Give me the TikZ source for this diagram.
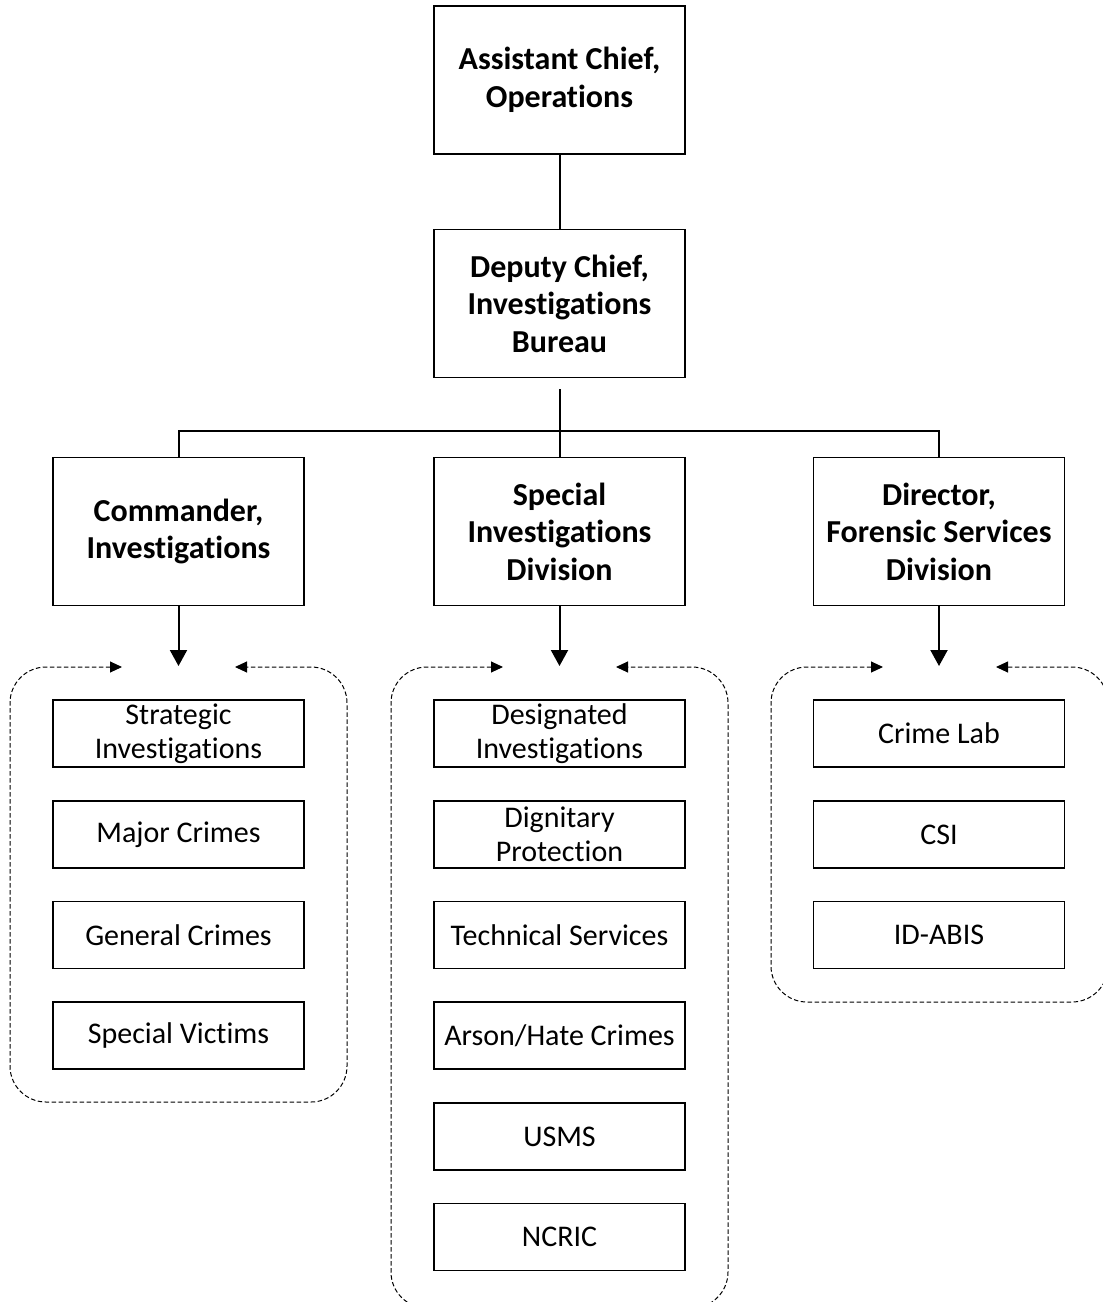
\documentclass[tikz,border=0pt]{standalone}
\usepackage{fontspec}
\setmainfont{Carlito}[Ligatures=NoCommon]
\usetikzlibrary{arrows.meta}
\tikzset{
  box/.style={draw, line width=1.7pt, minimum width=251pt, inner sep=0pt, align=center},
  headbox/.style={box, minimum height=148pt, font=\fontsize{32}{37.5}\selectfont\bfseries},
  unitbox/.style={box, minimum height=67pt, font=\fontsize{30}{34.5}\selectfont},
  conn/.style={line width=2pt},
  downarrow/.style={line width=2pt, -{Triangle[length=16pt,width=17pt]}},
  group/.style={line width=1pt, dash pattern=on 4.5pt off 2.5pt, rounded corners=36pt,
    {Triangle[length=12pt,width=11pt]}-{Triangle[length=12pt,width=11pt]}},
}
\begin{document}
\begin{tikzpicture}[x=1pt,y=-1pt]
\useasboundingbox (0,0) rectangle (1103,1302);
\fill[white] (0,0) rectangle (1103,1302);

% top
\node[headbox] (ac) at (559.5,80) {Assistant Chief,\\Operations};
\node[headbox] (dc) at (559.5,303.5) {Deputy Chief,\\Investigations\\Bureau};
\draw[conn] (ac) -- (dc);

% level 2
\node[headbox] (ci) at (178.5,531.5) {Commander,\\Investigations};
\node[headbox] (sid) at (559.5,531.5) {Special\\Investigations\\Division};
\node[headbox] (fsd) at (939,531.5) {Director,\\Forensic Services\\Division};

\coordinate (busstart) at (559.5,389);
\coordinate (bus) at (559.5,431);
\draw[conn] (busstart) -- (sid.north);
\draw[conn] (ci.north) |- (bus) -| (fsd.north);

% arrows down
\coordinate (tA) at (178.5,666);
\coordinate (tB) at (559.5,666);
\coordinate (tC) at (939,666);
\draw[downarrow] (ci.south) -- (tA);
\draw[downarrow] (sid.south) -- (tB);
\draw[downarrow] (fsd.south) -- (tC);

% groups
\coordinate (gAl) at (122,667);
\coordinate (gAr) at (235,667);
\draw[group] (gAl) -- (10,667) -- (10,1102) -- (347,1102) -- (347,667) -- (gAr);
\coordinate (gBl) at (503,667);
\coordinate (gBr) at (616,667);
\draw[group] (gBl) -- (391,667) -- (391,1308) -- (728,1308) -- (728,667) -- (gBr);
\coordinate (gCl) at (883,667);
\coordinate (gCr) at (996,667);
\draw[group] (gCl) -- (771,667) -- (771,1002) -- (1108,1002) -- (1108,667) -- (gCr);

% units left
\node[unitbox] (a1) at (178.5,733.5) {Strategic\\Investigations};
\node[unitbox] (a2) at (178.5,834.5) {Major Crimes};
\node[unitbox] (a3) at (178.5,935) {General Crimes};
\node[unitbox] (a4) at (178.5,1035.5) {Special Victims};

% units middle
\node[unitbox] (b1) at (559.5,733.5) {Designated\\Investigations};
\node[unitbox] (b2) at (559.5,834.5) {Dignitary\\Protection};
\node[unitbox] (b3) at (559.5,935) {Technical Services};
\node[unitbox] (b4) at (559.5,1035.5) {Arson/Hate Crimes};
\node[unitbox] (b5) at (559.5,1136.5) {USMS};
\node[unitbox] (b6) at (559.5,1237) {NCRIC};

% units right
\node[unitbox] (c1) at (939,733.5) {Crime Lab};
\node[unitbox] (c2) at (939,834.5) {CSI};
\node[unitbox] (c3) at (939,935) {ID-ABIS};
\end{tikzpicture}
\end{document}
